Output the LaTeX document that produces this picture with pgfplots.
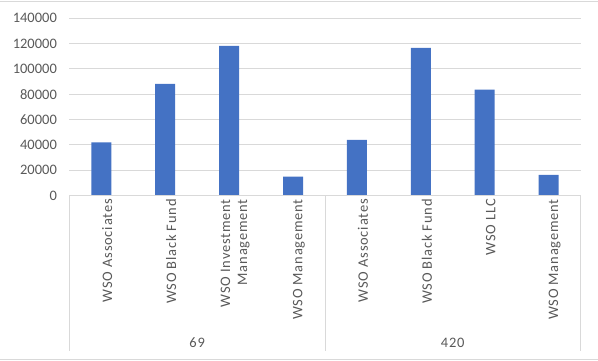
\documentclass[border=0pt]{standalone}
\usepackage{pgfplots}
\pgfplotsset{compat=1.18}
\usepackage{fontspec}
\setmainfont{Carlito}
\newfontfamily\lblfont[LetterSpace=5.5]{Carlito}
\definecolor{barblue}{HTML}{4472C4}
\definecolor{gridgray}{HTML}{D9D9D9}
\definecolor{txtgray}{HTML}{595959}
\begin{document}
\begin{tikzpicture}[x=1bp,y=1bp]
\path (0,0) rectangle (598,361);
\draw[gridgray, line width=0.9bp] (0,360) -- (598,360);
\draw[gridgray, line width=0.9bp] (0,1.5) -- (598,1.5);
\begin{axis}[
  at={(69bp,165bp)}, anchor=south west,
  scale only axis, width=512bp, height=178bp,
  xmin=-0.5, xmax=7.5, ymin=0, ymax=140000,
  axis line style={draw=none},
  tick style={draw=none},
  ytick={0,20000,...,140000},
  scaled y ticks=false,
  /pgf/number format/.cd, fixed, 1000 sep={}, assume math mode=true, /pgfplots/.cd,
  ymajorgrids, major grid style={gridgray, line width=0.9bp},
  yticklabel style={font=\fontsize{14.5bp}{17bp}\selectfont, text=txtgray, xshift=-9bp},
  xtick={0,...,7},
  xticklabels={{WSO Associates},{WSO Black Fund},{WSO Investment\\Management},{WSO Management},{WSO Associates},{WSO Black Fund},{WSO LLC},{WSO Management}},
  xticklabel style={rotate=90, anchor=east, align=right, font=\lblfont\fontsize{14.5bp}{17bp}\selectfont, text=txtgray, yshift=-6bp},
  clip=false,
]
\addplot[ybar, bar width=20bp, fill=barblue, draw=none] coordinates {
  (0,42000) (1,88000) (2,118000) (3,15000) (4,44000) (5,116500) (6,83500) (7,16500)
};
\draw[gridgray, line width=0.9bp] (axis cs:-0.5,0) -- (axis cs:7.5,0);
\draw[gridgray, line width=0.9bp] (axis cs:-0.5,0) -- ++(0bp,-156bp);
\draw[gridgray, line width=0.9bp] (axis cs:3.5,0) -- ++(0bp,-156bp);
\draw[gridgray, line width=0.9bp] (axis cs:7.5,0) -- ++(0bp,-156bp);
\node[text=txtgray, font=\lblfont\fontsize{14.5bp}{17bp}\selectfont] at (axis cs:1.5,0) [yshift=-147bp] {69};
\node[text=txtgray, font=\lblfont\fontsize{14.5bp}{17bp}\selectfont] at (axis cs:5.5,0) [yshift=-147bp] {420};
\end{axis}
\end{tikzpicture}
\end{document}
